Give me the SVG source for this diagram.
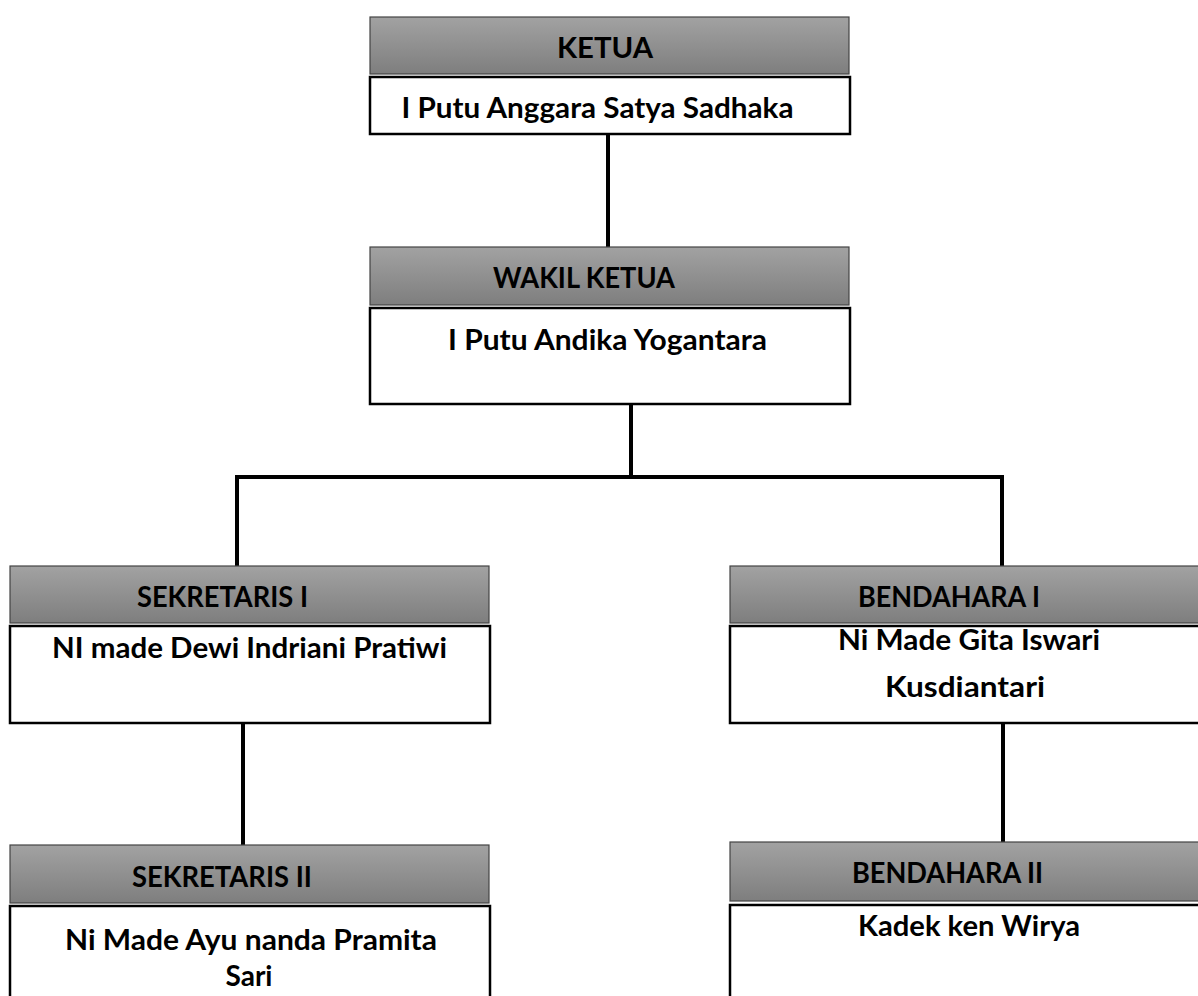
<svg xmlns="http://www.w3.org/2000/svg" width="1198" height="996" viewBox="0 0 1198 996">
<defs>
<linearGradient id="hg" x1="0" y1="0" x2="0" y2="1">
<stop offset="0" stop-color="#a2a2a2"/>
<stop offset="1" stop-color="#7e7e7e"/>
</linearGradient>
</defs>
<style>
.hdr{fill:url(#hg);stroke:#444;stroke-width:1.2}
.body{fill:#fff;stroke:#000;stroke-width:2.5}
.t{font-family:Lato,"Liberation Sans",sans-serif;font-weight:bold;font-size:28px;fill:#000;text-anchor:middle}
.c{stroke:#000;stroke-width:4;fill:none}
</style>
<rect width="1198" height="996" fill="#fff"/>
<g id="connectors">
<line class="c" x1="608" y1="135" x2="608" y2="247"/>
<line class="c" x1="631" y1="404" x2="631" y2="477"/>
<polyline class="c" points="237,566 237,477 1002,477 1002,566"/>
<line class="c" x1="243" y1="723" x2="243" y2="845"/>
<line class="c" x1="1003" y1="723" x2="1003" y2="842"/>
</g>
<g id="ketua">
<rect class="hdr" x="370" y="17" width="479" height="57"/>
<rect class="body" x="370" y="77" width="480" height="57"/>
<text class="t" x="605" y="58" textLength="96" lengthAdjust="spacingAndGlyphs">KETUA</text>
<text class="t" x="597.5" y="118" textLength="392" lengthAdjust="spacingAndGlyphs">I Putu Anggara Satya Sadhaka</text>
</g>
<g id="wakil">
<rect class="hdr" x="370" y="247" width="479" height="58"/>
<rect class="body" x="370" y="308" width="480" height="96"/>
<text class="t" x="584" y="288" textLength="182" lengthAdjust="spacingAndGlyphs">WAKIL KETUA</text>
<text class="t" x="607.5" y="350" textLength="319" lengthAdjust="spacingAndGlyphs">I Putu Andika Yogantara</text>
</g>
<g id="sekretaris1">
<rect class="hdr" x="10" y="566" width="479" height="57"/>
<rect class="body" x="10" y="626" width="480" height="97"/>
<text class="t" x="222.5" y="607" textLength="171" lengthAdjust="spacingAndGlyphs">SEKRETARIS I</text>
<text class="t" x="249.5" y="658" textLength="395" lengthAdjust="spacingAndGlyphs">NI made Dewi Indriani Pratiwi</text>
</g>
<g id="bendahara1">
<rect class="hdr" x="730" y="566" width="480" height="57"/>
<rect class="body" x="730" y="626" width="480" height="97"/>
<text class="t" x="949" y="607" textLength="182" lengthAdjust="spacingAndGlyphs">BENDAHARA I</text>
<text class="t" x="969" y="650" textLength="262" lengthAdjust="spacingAndGlyphs">Ni Made Gita Iswari</text>
<text class="t" x="965" y="697" textLength="160" lengthAdjust="spacingAndGlyphs">Kusdiantari</text>
</g>
<g id="sekretaris2">
<rect class="hdr" x="10" y="845" width="479" height="58"/>
<rect class="body" x="10" y="906" width="480" height="100"/>
<text class="t" x="222" y="887" textLength="180" lengthAdjust="spacingAndGlyphs">SEKRETARIS II</text>
<text class="t" x="251" y="950" textLength="372" lengthAdjust="spacingAndGlyphs">Ni Made Ayu nanda Pramita</text>
<text class="t" x="249" y="986" textLength="47" lengthAdjust="spacingAndGlyphs">Sari</text>
</g>
<g id="bendahara2">
<rect class="hdr" x="730" y="842" width="480" height="59"/>
<rect class="body" x="730" y="905" width="480" height="100"/>
<text class="t" x="947.5" y="883" textLength="191" lengthAdjust="spacingAndGlyphs">BENDAHARA II</text>
<text class="t" x="969" y="936" textLength="222" lengthAdjust="spacingAndGlyphs">Kadek ken Wirya</text>
</g>
</svg>
